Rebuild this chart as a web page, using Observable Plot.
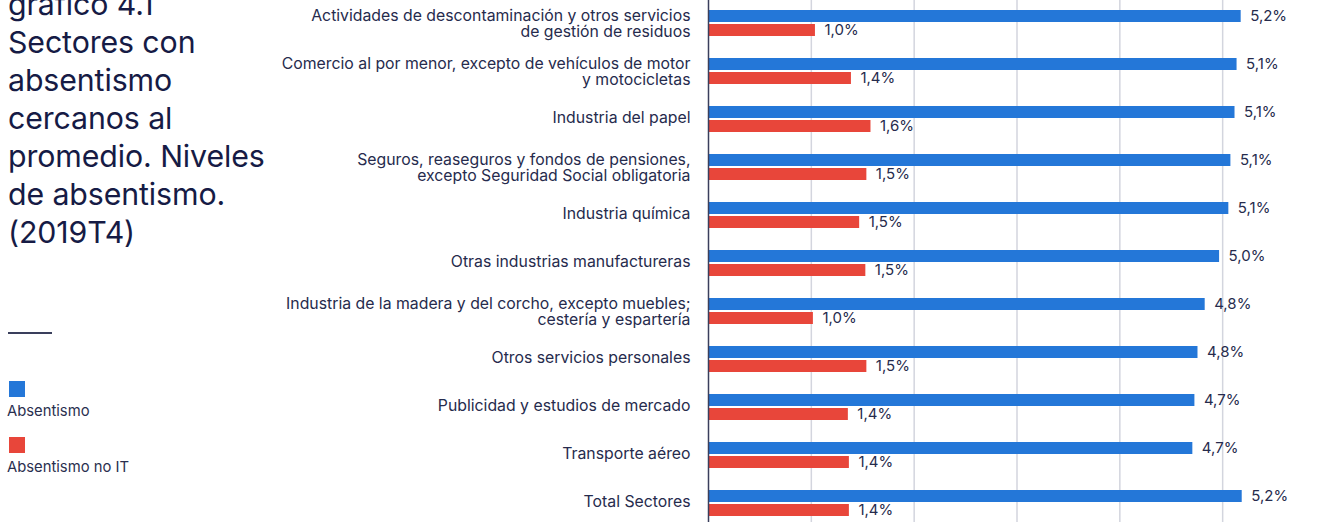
<!DOCTYPE html>
<html>
<head>
<meta charset="utf-8">
<script src="https://cdn.jsdelivr.net/npm/d3@7"></script>
<script src="https://cdn.jsdelivr.net/npm/@observablehq/plot@0.6"></script>
<style>
  html, body { margin: 0; padding: 0; background: #fff; overflow: hidden; }
  body { width: 1325px; height: 522px; position: relative; font-family: Inter, "Noto Sans", sans-serif; }
  #title { position: absolute; left: 8px; top: -15px; font-size: 30.3px; line-height: 38px; color: #161b45; font-weight: 400; letter-spacing: -0.1px; }
  #rule { position: absolute; left: 8px; top: 332px; width: 44px; height: 1.5px; background: #3a3f5c; }
  .sw { position: absolute; left: 9px; width: 16px; height: 16px; }
  .lg { position: absolute; left: 7px; font-size: 14.8px; color: #2a2f4f; line-height: 16px; }
  #chart { position: absolute; left: 0; top: 0; }
</style>
</head>
<body>
<div id="title">gráfico 4.1<br>Sectores con<br>absentismo<br>cercanos al<br>promedio. Niveles<br>de absentismo.<br>(2019T4)</div>
<div id="rule"></div>
<div class="sw" style="top:381px;background:#2477d8"></div>
<div class="lg" style="top:403px">Absentismo</div>
<div class="sw" style="top:437px;background:#e8463a"></div>
<div class="lg" style="top:459px">Absentismo no IT</div>
<div id="chart"></div>
<script>
const categories = [
  "Actividades de descontaminación y otros servicios\nde gestión de residuos",
  "Comercio al por menor, excepto de vehículos de motor\ny motocicletas",
  "Industria del papel",
  "Seguros, reaseguros y fondos de pensiones,\nexcepto Seguridad Social obligatoria",
  "Industria química",
  "Otras industrias manufactureras",
  "Industria de la madera y del corcho, excepto muebles;\ncestería y espartería",
  "Otros servicios personales",
  "Publicidad y estudios de mercado",
  "Transporte aéreo",
  "Total Sectores"
];
const absentismo   = [5.18, 5.14, 5.12, 5.08, 5.06, 4.97, 4.83, 4.76, 4.73, 4.71, 5.19];
const absentismoNoIT = [1.04, 1.39, 1.58, 1.54, 1.47, 1.53, 1.02, 1.54, 1.36, 1.37, 1.37];
const gridTicks = [1, 2, 3, 4, 5];

const blue = "#2477d8", red = "#e8463a", ink = "#262b4d";
const fmt = v => d3.format(".1f")(v).replace(".", ",") + "%";

const A = categories.map((c, i) => ({cat: c, v: absentismo[i]}));
const B = categories.map((c, i) => ({cat: c, v: absentismoNoIT[i]}));
const multi = categories.filter(c => c.includes("\n"));
const single = categories.filter(c => !c.includes("\n"));

const chart = Plot.plot({
  width: 1325,
  height: 522,
  marginLeft: 708,
  marginRight: 0,
  marginTop: 0,
  marginBottom: 0,
  style: {fontFamily: "Inter, 'Noto Sans', sans-serif", fontSize: "15px", color: ink, background: "transparent"},
  x: {domain: [0, 6], axis: null},
  y: {domain: categories, range: [-2.1, 528.5], padding: 0, axis: null},
  marks: [
    Plot.ruleX(gridTicks, {stroke: "#d3d5de", strokeWidth: 1.5}),
    Plot.barX(A, {x: "v", y: "cat", fill: blue, insetTop: 11, insetBottom: 25}),
    Plot.barX(B, {x: "v", y: "cat", fill: red, insetTop: 25, insetBottom: 11}),
    Plot.text(A, {x: "v", y: "cat", text: d => fmt(d.v), dx: 9, dy: -7, textAnchor: "start", fill: ink, fontSize: 15}),
    Plot.text(B, {x: "v", y: "cat", text: d => fmt(d.v), dx: 9, dy: 7, textAnchor: "start", fill: ink, fontSize: 15}),
    Plot.text(multi, {x: 0, y: d => d, text: d => d, dx: -18, textAnchor: "end", lineHeight: 1.06, fill: ink, fontSize: 15.8}),
    Plot.text(single, {x: 0, y: d => d, text: d => d, dx: -18, dy: -2, textAnchor: "end", fill: ink, fontSize: 15.8}),
    Plot.ruleX([0], {stroke: "#3a3f5c", strokeWidth: 1.5})
  ]
});
document.getElementById("chart").appendChild(chart);
</script>
</body>
</html>
